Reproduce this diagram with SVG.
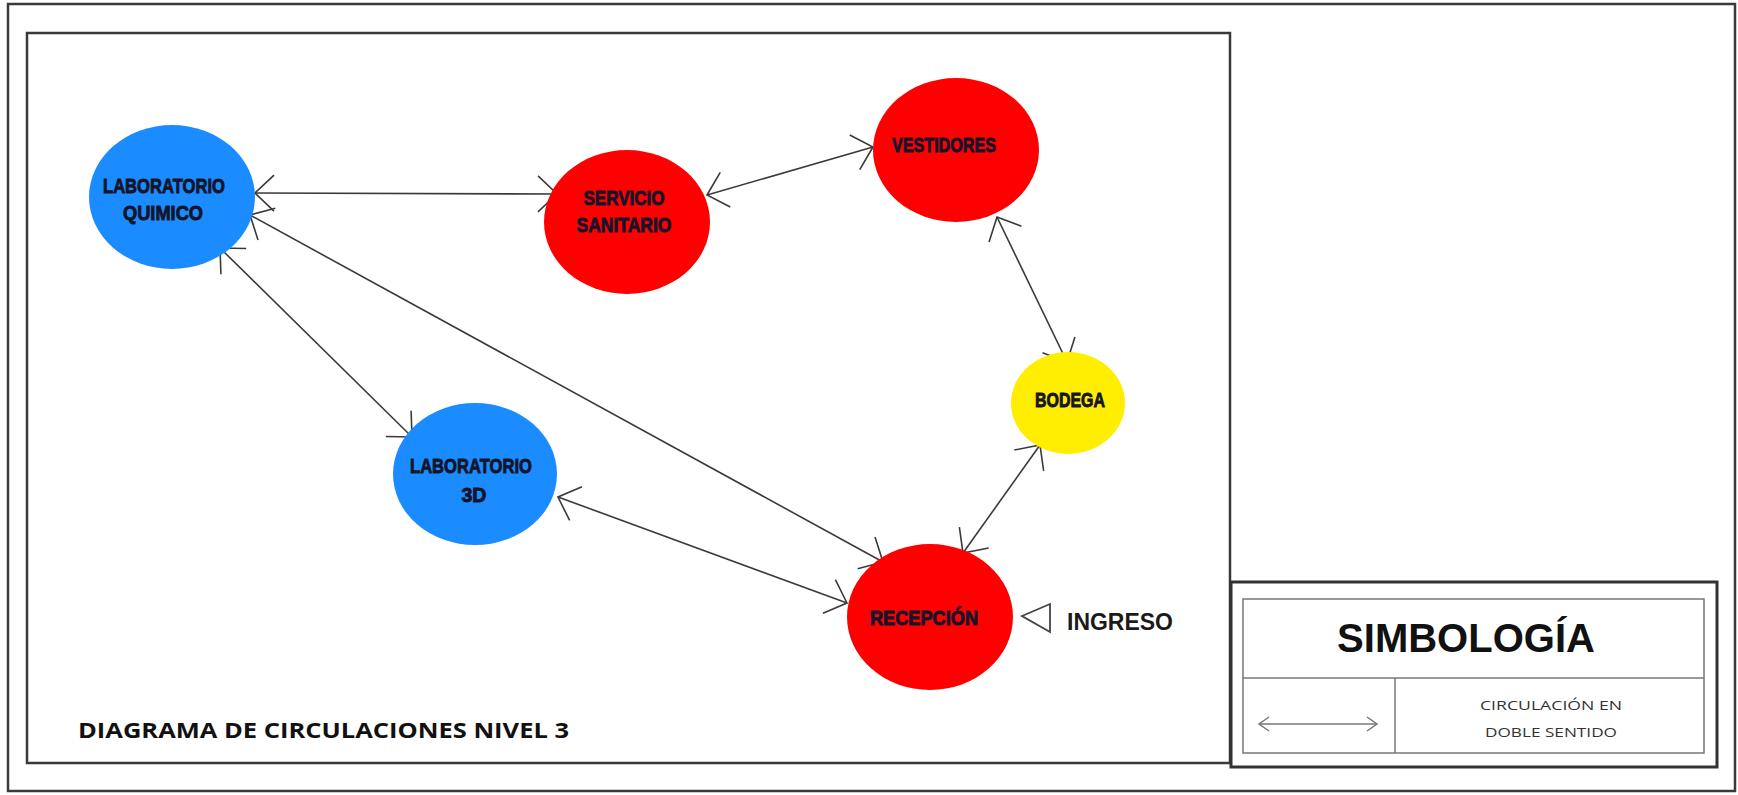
<svg xmlns="http://www.w3.org/2000/svg" width="1738" height="795" viewBox="0 0 1738 795">
  <style>
    .frame { fill: none; stroke: #3a3a3a; }
    .blue { fill: #1A8CFF; }
    .red { fill: #FF0000; }
    .yellow { fill: #FFEE00; }
    .nlabel { font-family: "Liberation Sans", Arial, sans-serif; font-weight: 900; font-size: 21px; fill: #15152a; stroke: #15152a; stroke-width: 0.9; text-anchor: middle; }
    .conn { stroke: #3a3a3a; stroke-width: 1.6; fill: none; marker-start: url(#ah); marker-end: url(#ah); }
    .title { font-family: "Open Sans", "Liberation Sans", sans-serif; font-weight: bold; font-size: 22px; fill: #111; }
    .legtxt { font-family: "Open Sans", "Liberation Sans", sans-serif; font-size: 13px; fill: #333; text-anchor: middle; }
  </style>
  <defs>
    <marker id="ah" viewBox="-22 -20 24 40" refX="0" refY="0" markerWidth="24" markerHeight="40" markerUnits="userSpaceOnUse" orient="auto-start-reverse">
      <path d="M-19,-18 L0,0 L-19,18" fill="none" stroke="#3a3a3a" stroke-width="1.6"/>
    </marker>
    <marker id="ahs" viewBox="-12 -9 14 18" refX="0" refY="0" markerWidth="14" markerHeight="18" markerUnits="userSpaceOnUse" orient="auto-start-reverse">
      <path d="M-10,-7 L0,0 L-10,7" fill="none" stroke="#777" stroke-width="1.5"/>
    </marker>
  </defs>

  <rect width="1738" height="795" fill="#ffffff"/>

  <!-- frames -->
  <g id="frames">
    <rect class="frame" x="8" y="4" width="1727" height="787" stroke-width="2.5" stroke="#555"/>
    <rect class="frame" x="27" y="33" width="1203" height="730" stroke-width="2.5"/>
  </g>

  <!-- connectors -->
  <g id="connectors">
    <line class="conn" x1="255" y1="193" x2="557" y2="194"/>
    <line class="conn" x1="707" y1="195" x2="873" y2="147"/>
    <line class="conn" x1="997" y1="217" x2="1067" y2="362"/>
    <line class="conn" x1="1040" y1="445" x2="963" y2="553"/>
    <line class="conn" x1="558" y1="497" x2="847" y2="603"/>
    <line class="conn" x1="250" y1="215" x2="883" y2="562"/>
    <line class="conn" x1="220" y1="248" x2="412" y2="437"/>
  </g>

  <!-- nodes -->
  <g id="lab-quimico">
    <ellipse class="blue" cx="172" cy="197" rx="83" ry="72"/>
    <text class="nlabel" x="164" y="193" textLength="122" lengthAdjust="spacingAndGlyphs">LABORATORIO</text>
    <text class="nlabel" x="163" y="220" textLength="80" lengthAdjust="spacingAndGlyphs">QUIMICO</text>
  </g>
  <g id="servicio-sanitario">
    <ellipse class="red" cx="627" cy="222" rx="83" ry="72"/>
    <text class="nlabel" x="624" y="205" textLength="81" lengthAdjust="spacingAndGlyphs">SERVICIO</text>
    <text class="nlabel" x="624" y="232" textLength="95" lengthAdjust="spacingAndGlyphs">SANITARIO</text>
  </g>
  <g id="vestidores">
    <ellipse class="red" cx="956" cy="150" rx="83" ry="72"/>
    <text class="nlabel" x="944" y="152" textLength="104" lengthAdjust="spacingAndGlyphs">VESTIDORES</text>
  </g>
  <g id="bodega">
    <ellipse class="yellow" cx="1068" cy="403" rx="57" ry="51"/>
    <text class="nlabel" x="1070" y="407" textLength="70" lengthAdjust="spacingAndGlyphs">BODEGA</text>
  </g>
  <g id="lab-3d">
    <ellipse class="blue" cx="475" cy="474" rx="82" ry="71"/>
    <text class="nlabel" x="471" y="473" textLength="122" lengthAdjust="spacingAndGlyphs">LABORATORIO</text>
    <text class="nlabel" x="474" y="502" textLength="25" lengthAdjust="spacingAndGlyphs">3D</text>
  </g>
  <g id="recepcion">
    <ellipse class="red" cx="930" cy="617" rx="83" ry="73"/>
    <text class="nlabel" x="924" y="625" textLength="108" lengthAdjust="spacingAndGlyphs">RECEPCIÓN</text>
  </g>
  <g id="ingreso">
    <polygon points="1022,616 1050,604 1050,632" fill="none" stroke="#444" stroke-width="1.8"/>
    <text x="1067" y="630" font-family="Liberation Sans, Arial, sans-serif" font-weight="bold" font-size="23" fill="#1a1a1a" textLength="106" lengthAdjust="spacingAndGlyphs">INGRESO</text>
  </g>

  <g id="diagram-title">
    <text class="title" x="78" y="738" textLength="491" lengthAdjust="spacingAndGlyphs">DIAGRAMA DE CIRCULACIONES NIVEL 3</text>
  </g>

  <!-- legend -->
  <g id="legend">
    <rect x="1231" y="582" width="486" height="185" fill="none" stroke="#333" stroke-width="3"/>
    <rect x="1243" y="599" width="461" height="154" fill="none" stroke="#777" stroke-width="1.5"/>
    <line x1="1243" y1="678" x2="1704" y2="678" stroke="#777" stroke-width="1.5"/>
    <line x1="1395" y1="678" x2="1395" y2="753" stroke="#777" stroke-width="1.5"/>
    <text x="1466" y="652" font-family="Liberation Sans, Arial, sans-serif" font-weight="bold" font-size="40" fill="#111" text-anchor="middle">SIMBOLOGÍA</text>
    <line x1="1259" y1="724" x2="1377" y2="724" stroke="#777" stroke-width="1.5" marker-start="url(#ahs)" marker-end="url(#ahs)"/>
    <text class="legtxt" x="1551" y="710" textLength="142" lengthAdjust="spacingAndGlyphs">CIRCULACIÓN EN</text>
    <text class="legtxt" x="1551" y="737" textLength="132" lengthAdjust="spacingAndGlyphs">DOBLE SENTIDO</text>
  </g>
</svg>
